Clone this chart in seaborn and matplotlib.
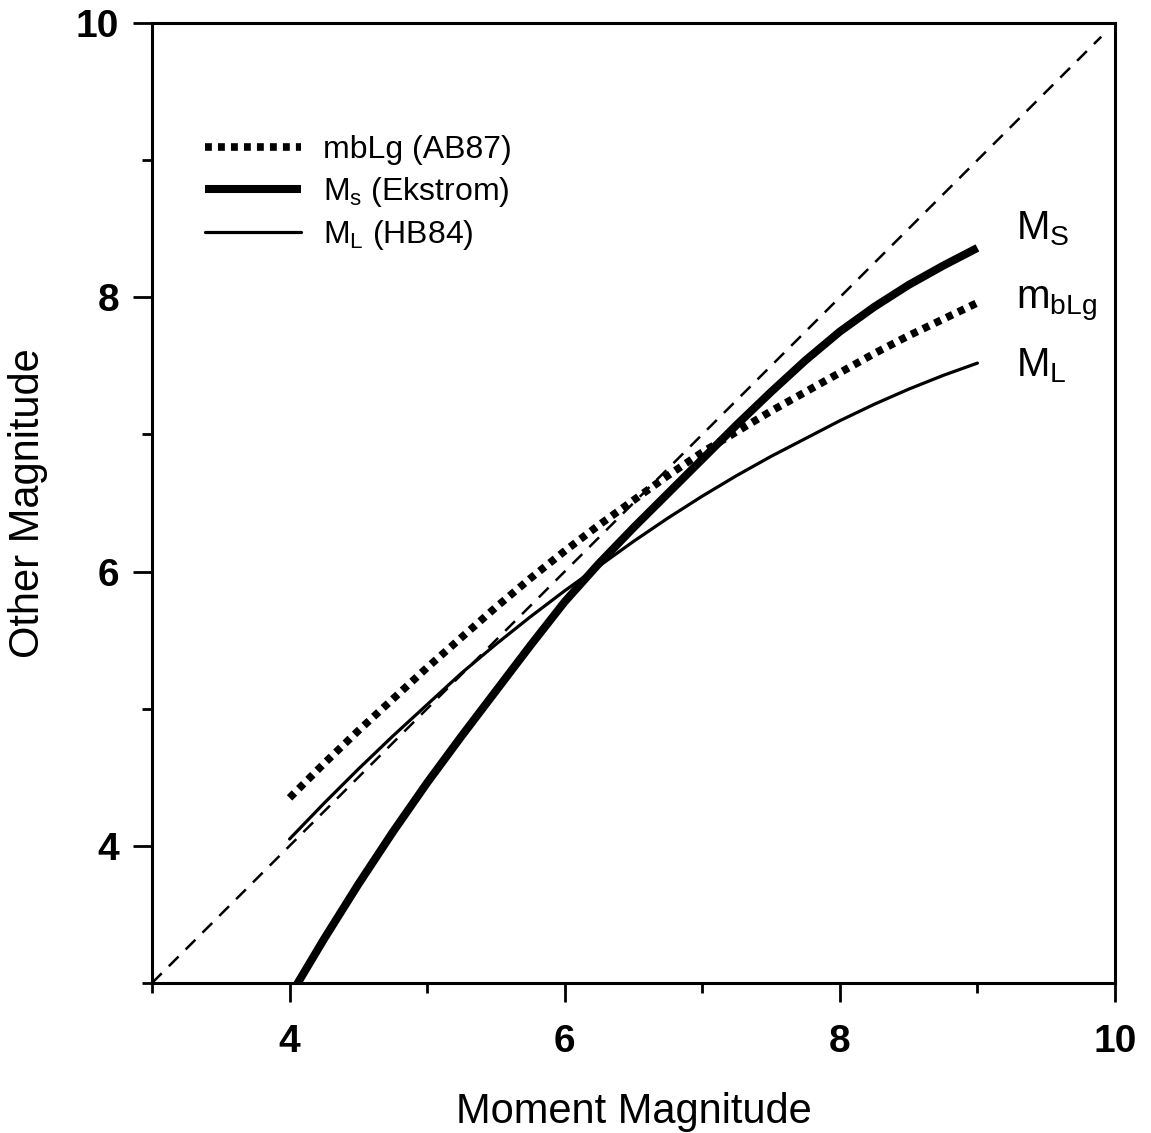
import matplotlib
matplotlib.use("Agg")
import matplotlib.pyplot as plt
import seaborn as sns
import pandas as pd

# ---- data ----
mw = [4.0, 4.25, 4.5, 4.75, 5.0, 5.25, 5.5, 5.75, 6.0, 6.25, 6.5,
      6.75, 7.0, 7.25, 7.5, 7.75, 8.0, 8.25, 8.5, 8.75, 9.0]
mblg_ab87 = [4.35, 4.60, 4.84, 5.07, 5.30, 5.52, 5.74, 5.95, 6.15, 6.34, 6.52,
             6.70, 6.87, 7.02, 7.17, 7.31, 7.45, 7.59, 7.72, 7.84, 7.96]
ms_ekstrom = [2.90, 3.32, 3.72, 4.10, 4.46, 4.80, 5.13, 5.46, 5.78, 6.06, 6.32,
              6.57, 6.82, 7.07, 7.31, 7.54, 7.75, 7.93, 8.09, 8.23, 8.36]
ml_hb84 = [4.05, 4.31, 4.56, 4.80, 5.03, 5.26, 5.47, 5.67, 5.86, 6.04, 6.22,
           6.39, 6.55, 6.70, 6.84, 6.97, 7.10, 7.22, 7.33, 7.43, 7.52]
one_to_one = [3.0, 9.9]

major_ticks = [4, 6, 8, 10]
minor_ticks = [3, 5, 7, 9]

legend_labels = ["mbLg (AB87)", r"$\mathregular{M_s}$ (Ekstrom)", r"$\mathregular{M_L}$ (HB84)"]
end_labels = [r"$\mathregular{M_S}$", r"$\mathregular{m_{bLg}}$", r"$\mathregular{M_L}$"]
end_label_y = [8.42, 7.92, 7.42]

sns.set_theme(style="ticks")
plt.rcParams["font.family"] = ["Liberation Sans", "DejaVu Sans"]
plt.rcParams["mathtext.default"] = "regular"
for k in ["text.color", "axes.labelcolor", "xtick.color", "ytick.color",
          "xtick.labelcolor", "ytick.labelcolor", "axes.edgecolor"]:
    plt.rcParams[k] = "black"

fig = plt.figure(figsize=(11.51, 11.33), dpi=100)
ax = fig.add_axes([152 / 1151, 1 - 983 / 1133, 963 / 1151, 960 / 1133])

df = pd.DataFrame({"mw": mw, "mblg": mblg_ab87, "ms": ms_ekstrom, "ml": ml_hb84})

sns.lineplot(x=one_to_one, y=one_to_one, ax=ax, color="black", linewidth=1.8,
             linestyle=(0, (5.5, 4)), label="_nolegend_")
sns.lineplot(data=df, x="mw", y="mblg", ax=ax, color="black", linewidth=5.5,
             linestyle=(0, (0.9, 0.8)), label=legend_labels[0])
sns.lineplot(data=df, x="mw", y="ms", ax=ax, color="black", linewidth=5.8,
             label=legend_labels[1], solid_capstyle="butt")
sns.lineplot(data=df, x="mw", y="ml", ax=ax, color="black", linewidth=2.3,
             label=legend_labels[2])

ax.set_xlim(3, 10)
ax.set_ylim(3, 10)
ax.set_xticks(major_ticks)
ax.set_yticks(major_ticks)
ax.set_xticks(minor_ticks, minor=True)
ax.set_yticks(minor_ticks, minor=True)
ax.tick_params(axis="both", which="major", direction="out", length=13.5, width=2.0,
               labelsize=28, color="black", labelcolor="black")
ax.tick_params(axis="x", which="major", pad=16)
ax.tick_params(axis="y", which="major", pad=10)
ax.tick_params(axis="both", which="minor", direction="out", length=7, width=2.0,
               color="black")
for lab in ax.get_xticklabels() + ax.get_yticklabels():
    lab.set_fontweight("bold")
for sp in ax.spines.values():
    sp.set_visible(True)
    sp.set_linewidth(2.2)
    sp.set_color("black")

ax.set_xlabel("Moment Magnitude", fontsize=30, labelpad=23, color="black")
ax.set_ylabel("Other Magnitude", fontsize=30, labelpad=20, color="black")

leg = ax.legend(loc="upper left", bbox_to_anchor=(0.055, 0.883), frameon=False,
                fontsize=23, handlelength=3.0, handletextpad=0.7, labelspacing=0.3,
                borderaxespad=0, borderpad=0)
for t in leg.get_texts():
    t.set_color("black")

for lab, yv in zip(end_labels, end_label_y):
    ax.text(9.28, yv, lab, fontsize=29, ha="left", va="baseline", color="black")

ax.set_facecolor("white")
fig.patch.set_facecolor("white")
fig.savefig("out.png", dpi=100)
